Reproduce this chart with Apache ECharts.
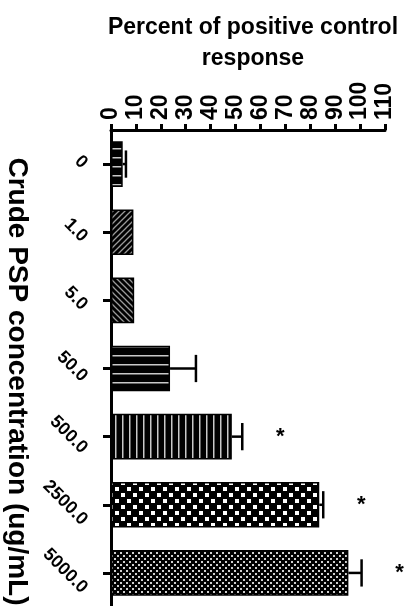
<!DOCTYPE html>
<html>
<head>
<meta charset="utf-8">
<script src="https://cdn.jsdelivr.net/npm/echarts@6/dist/echarts.min.js"></script>
<style>
  html, body { margin: 0; padding: 0; background: #fff; }
  #chart { width: 408px; height: 606px; }
</style>
</head>
<body>
<div id="chart"></div>
<script>
// Crude PSP concentrations (ug/mL)
const categories = ['0', '1.0', '5.0', '50.0', '500.0', '2500.0', '5000.0'];
// Mean response, % of positive control
const means = [4.7, 9.0, 9.3, 23.7, 48.5, 83.6, 95.3];
// Upper error (SEM)
const sems = [1.3, 0, 0, 10.4, 4.2, 1.6, 5.3];
// Significant vs. control
const significant = [false, false, false, false, true, true, true];
// Value-axis ticks
const axisMin = 0, axisMax = 110, axisStep = 10;

const FONT = '"Liberation Sans", Arial, sans-serif';

function makePattern(w, h, draw) {
  const c = document.createElement('canvas');
  c.width = w; c.height = h;
  const ctx = c.getContext('2d');
  ctx.fillStyle = '#000';
  ctx.fillRect(0, 0, w, h);
  draw(ctx, w, h);
  return { image: c, repeat: 'repeat' };
}

const hLines = () => makePattern(10, 9, (g, w) => { g.fillStyle = '#c8c8c8'; g.fillRect(0, 4, w, 1.5); });
const diag = (dir) => makePattern(6, 6, (g) => {
  g.strokeStyle = '#9a9a9a'; g.lineWidth = 1.3;
  g.beginPath();
  if (dir > 0) {
    g.moveTo(-1, 7); g.lineTo(7, -1);
    g.moveTo(-1, 1); g.lineTo(1, -1);
    g.moveTo(5, 7); g.lineTo(7, 5);
  } else {
    g.moveTo(-1, -1); g.lineTo(7, 7);
    g.moveTo(5, -1); g.lineTo(7, 1);
    g.moveTo(-1, 5); g.lineTo(1, 7);
  }
  g.stroke();
});
const vLines = () => makePattern(7, 10, (g, w, h) => { g.fillStyle = '#c8c8c8'; g.fillRect(3, 0, 1.5, h); });
const checker = () => makePattern(12, 12, (g) => { g.fillStyle = '#fff'; g.fillRect(1, 1, 4, 4); g.fillRect(7, 7, 4, 4); });
const fineChecker = () => makePattern(6, 6, (g) => { g.fillStyle = '#d0d0d0'; g.fillRect(0, 0, 2, 2); g.fillRect(3, 3, 2, 2); });

const fills = [hLines(), diag(1), diag(-1), hLines(), vLines(), checker(), fineChecker()];

const chart = echarts.init(document.getElementById('chart'), null, { renderer: 'canvas' });

// text measurement for the slanted category labels
const measureCtx = document.createElement('canvas').getContext('2d');
const catFontSize = 18;
measureCtx.font = 'bold ' + catFontSize + 'px ' + FONT;

chart.setOption({
  animation: false,
  backgroundColor: '#fff',
  title: {
    text: 'Percent of positive control\nresponse',
    left: 248,
    top: 7,
    textAlign: 'center',
    textStyle: { fontFamily: FONT, fontWeight: 'bold', fontSize: 23, lineHeight: 31, color: '#000' }
  },
  grid: { left: 111, right: 23, top: 130, bottom: -1, containLabel: false, outerBoundsMode: 'none' },
  xAxis: {
    type: 'value',
    position: 'top',
    min: axisMin,
    max: axisMax,
    interval: axisStep,
    splitLine: { show: false },
    axisLine: { show: true, lineStyle: { color: '#000', width: 3 } },
    axisTick: { show: true, length: 6, lineStyle: { color: '#000', width: 3 } },
    axisLabel: {
      rotate: -90, margin: 10,
      fontFamily: FONT, fontWeight: 'bold', fontSize: 23, color: '#000'
    }
  },
  yAxis: {
    type: 'category',
    data: categories,
    inverse: true,
    axisLine: { show: true, lineStyle: { color: '#000', width: 3 } },
    axisTick: { show: true, alignWithLabel: true, length: 8, lineStyle: { color: '#000', width: 3 } },
    axisLabel: { show: false },
    name: 'Crude PSP concentration (ug/mL)',
    nameLocation: 'middle',
    nameRotate: -90,
    nameGap: 80,
    nameTextStyle: { fontFamily: FONT, fontWeight: 'bold', fontSize: 28, color: '#000', padding: [0, 0, 0, 26] }
  },
  series: [
    {
      type: 'bar',
      barWidth: '67%',
      data: means.map((v, i) => ({
        value: v,
        itemStyle: { color: fills[i], borderColor: '#000', borderWidth: 1.5 }
      })),
      z: 2
    },
    {
      // error bars and significance marks
      type: 'custom',
      data: means.map((v, i) => [i, v, v + sems[i], significant[i] ? 1 : 0]),
      encode: { x: [1, 2], y: 0 },
      z: 3,
      renderItem: function (params, api) {
        const idx = api.value(0);
        const mean = api.value(1);
        const hi = api.value(2);
        const p0 = api.coord([mean, idx]);
        const p1 = api.coord([hi, idx]);
        const capH = api.size([0, 1])[1] * 0.4;
        const st = { stroke: '#000', lineWidth: 2.5 };
        const children = [];
        if (hi > mean) {
          children.push({ type: 'line', shape: { x1: p0[0], y1: p0[1], x2: p1[0], y2: p1[1] }, style: st });
          children.push({ type: 'line', shape: { x1: p1[0], y1: p1[1] - capH / 2, x2: p1[0], y2: p1[1] + capH / 2 }, style: st });
        }
        if (api.value(3)) {
          children.push({
            type: 'text',
            x: p1[0] + 38, y: p1[1],
            style: { text: '*', fill: '#000', font: 'bold 22px ' + FONT, align: 'center', verticalAlign: 'middle' }
          });
        }
        return { type: 'group', children: children };
      }
    },
    {
      // slanted category labels, centred on each tick
      type: 'custom',
      data: categories.map((c, i) => [0, i]),
      encode: { x: 0, y: 1 },
      silent: true,
      z: 4,
      renderItem: function (params, api) {
        const i = api.value(1);
        const p = api.coord([0, i]);
        const text = categories[i];
        const L = measureCtx.measureText(text).width;
        const halfW = (L + catFontSize) * Math.SQRT1_2 / 2;
        return {
          type: 'text',
          x: p[0] - 20 - halfW,
          y: p[1] - 2,
          rotation: -Math.PI / 4,
          style: {
            text: text, fill: '#000',
            font: 'bold ' + catFontSize + 'px ' + FONT,
            align: 'center', verticalAlign: 'middle'
          }
        };
      }
    }
  ]
});
</script>
</body>
</html>
